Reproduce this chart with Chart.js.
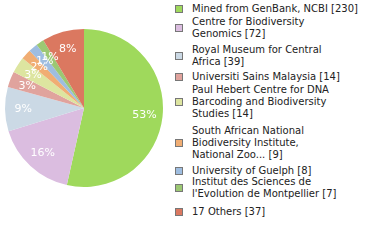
<!DOCTYPE html>
<html>
<head>
<meta charset="utf-8">
<script src="https://cdn.jsdelivr.net/npm/chart.js@4"></script>
<style>
  body { margin: 0; background: #fff; width: 380px; height: 240px; overflow: hidden; position: relative; }
  #pieBox { position: absolute; left: 0; top: 0; width: 168px; height: 216px; }
  #legend { position: absolute; left: 174px; top: 0; width: 206px; height: 240px; font-family: "DejaVu Sans", Verdana, sans-serif; font-size: 10px; color: #222; line-height: 12px; }
  .item { position: absolute; left: 0; padding-left: 18px; white-space: nowrap; }
  .sw { position: absolute; left: 1px; width: 6px; height: 6px; border: 1px solid #777; }
</style>
</head>
<body>
<div id="pieBox"><canvas id="pie"></canvas></div>
<div id="legend"></div>
<script>
const labels = [
  ['Mined from GenBank, NCBI [230]'],
  ['Centre for Biodiversity', 'Genomics [72]'],
  ['Royal Museum for Central', 'Africa [39]'],
  ['Universiti Sains Malaysia [14]'],
  ['Paul Hebert Centre for DNA', 'Barcoding and Biodiversity', 'Studies [14]'],
  ['South African National', 'Biodiversity Institute,', 'National Zoo... [9]'],
  ['University of Guelph [8]'],
  ['Institut des Sciences de', "l'Evolution de Montpellier [7]"],
  ['17 Others [37]']
];
const counts = [230, 72, 39, 14, 14, 9, 8, 7, 37];
const colors = ['#9fd95c', '#dbbde0', '#cbd9e5', '#e0a39d', '#dde5a0', '#f0ad73', '#9ebde0', '#9cc873', '#db7860'];

// where each legend entry starts (px from top)
const legendTops = [3, 16, 44, 71, 84, 125, 165, 176, 206];

const leg = document.getElementById('legend');
labels.forEach((lines, i) => {
  const d = document.createElement('div');
  d.className = 'item';
  d.style.top = legendTops[i] + 'px';
  const sw = document.createElement('span');
  sw.className = 'sw';
  sw.style.background = colors[i];
  sw.style.top = Math.round(lines.length * 12 / 2 - 4) + 'px';
  d.appendChild(sw);
  lines.forEach((l, j) => {
    if (j) d.appendChild(document.createElement('br'));
    d.appendChild(document.createTextNode(l));
  });
  leg.appendChild(d);
});

const total = counts.reduce((a, b) => a + b, 0);

const pctLabels = {
  id: 'pctLabels',
  afterDatasetsDraw(chart) {
    const ctx = chart.ctx;
    const meta = chart.getDatasetMeta(0);
    ctx.save();
    ctx.font = '11px "DejaVu Sans", Verdana, sans-serif';
    ctx.fillStyle = '#fff';
    ctx.textAlign = 'center';
    ctx.textBaseline = 'middle';
    meta.data.forEach((arc, i) => {
      const mid = (arc.startAngle + arc.endAngle) / 2;
      const r = arc.outerRadius * 0.77;
      const x = arc.x + Math.cos(mid) * r;
      const y = arc.y + Math.sin(mid) * r;
      ctx.fillText(Math.floor(counts[i] / total * 100) + '%', x, y);
    });
    ctx.restore();
  }
};

new Chart(document.getElementById('pie'), {
  type: 'pie',
  data: {
    labels: labels.map(l => l.join(' ')),
    datasets: [{ data: counts, backgroundColor: colors, borderWidth: 0 }]
  },
  options: {
    responsive: true,
    maintainAspectRatio: false,
    animation: false,
    layout: { padding: { left: 5, right: 5, top: 0, bottom: 0 } },
    plugins: { legend: { display: false }, tooltip: { enabled: false } }
  },
  plugins: [pctLabels]
});
</script>
</body>
</html>
